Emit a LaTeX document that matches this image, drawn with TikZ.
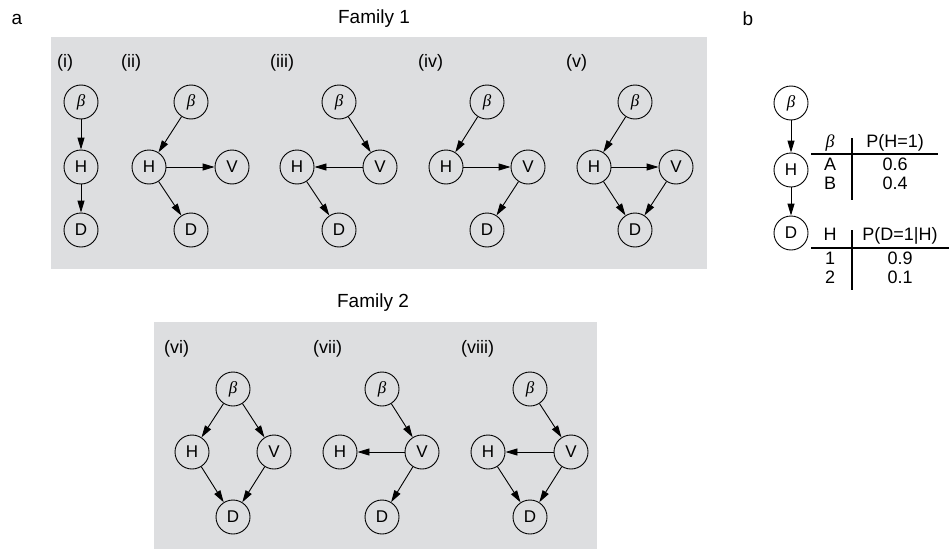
\documentclass[tikz,border=0pt]{standalone}
\usepackage{fontspec}
\setmainfont{Liberation Sans}
\newfontfamily\grkserif{Liberation Serif}
\usetikzlibrary{arrows.meta}
\definecolor{panelgray}{RGB}{221,222,224}
\newcommand{\bet}{{\grkserif\itshape β}}
\tikzset{
  x=1pt, y=-1pt,
  gnode/.style={circle, draw=black, line width=0.9pt, minimum size=34pt, inner sep=0pt, font=\fontsize{17}{17}\selectfont},
  edge/.style={draw=black, line width=0.9pt, -{Triangle[length=12pt,width=7pt]}},
  plabel/.style={anchor=west, inner sep=0pt, font=\fontsize{18}{18}\selectfont},
  title/.style={inner sep=0pt, font=\fontsize{19}{19}\selectfont},
  tabtext/.style={inner sep=0pt, text height=0.72em, text depth=0pt, font=\fontsize{18}{18}\selectfont},
  tabline/.style={draw=black, line width=1.1pt},
  panel/.style={fill=panelgray, draw=none}
}
\begin{document}
\begin{tikzpicture}
\useasboundingbox (0,0) rectangle (952,551);
\fill[white] (0,0) rectangle (952,551);
% panels
\path[panel] (51,37) rectangle (707,269);
\path[panel] (154,322) rectangle (597,549);
% titles
\node[title] (ta) at (17,19) {a};
\node[title] (tb) at (748,19) {b};
\node[title] (f1) at (374,19) {Family 1};
\node[title] (f2) at (373,303) {Family 2};
% labels
\node[plabel] (li) at (57,63) {(i)};
\node[plabel] (lii) at (121,63) {(ii)};
\node[plabel] (liii) at (270,63) {(iii)};
\node[plabel] (liv) at (418,63) {(iv)};
\node[plabel] (lv) at (566,63) {(v)};
\node[plabel] (lvi) at (164,349) {(vi)};
\node[plabel] (lvii) at (313,349) {(vii)};
\node[plabel] (lviii) at (461,349) {(viii)};
% (i)
\node[gnode] (b1) at (81,102) {\bet};
\node[gnode] (h1) at (81,167) {H};
\node[gnode] (d1) at (81,230) {D};
\draw[edge] (b1) -- (h1);
\draw[edge] (h1) -- (d1);
% (ii)
\node[gnode] (b2) at (191,102) {\bet};
\node[gnode] (h2) at (149,167) {H};
\node[gnode] (v2) at (232,167) {V};
\node[gnode] (d2) at (191,230) {D};
\draw[edge] (b2) -- (h2);
\draw[edge] (h2) -- (v2);
\draw[edge] (h2) -- (d2);
% (iii)
\node[gnode] (b3) at (339,102) {\bet};
\node[gnode] (h3) at (297,167) {H};
\node[gnode] (v3) at (380,167) {V};
\node[gnode] (d3) at (339,230) {D};
\draw[edge] (b3) -- (v3);
\draw[edge] (v3) -- (h3);
\draw[edge] (h3) -- (d3);
% (iv)
\node[gnode] (b4) at (487,102) {\bet};
\node[gnode] (h4) at (446,167) {H};
\node[gnode] (v4) at (528,167) {V};
\node[gnode] (d4) at (487,230) {D};
\draw[edge] (b4) -- (h4);
\draw[edge] (h4) -- (v4);
\draw[edge] (v4) -- (d4);
% (v)
\node[gnode] (b5) at (635,102) {\bet};
\node[gnode] (h5) at (594,167) {H};
\node[gnode] (v5) at (676,167) {V};
\node[gnode] (d5) at (635,230) {D};
\draw[edge] (b5) -- (h5);
\draw[edge] (h5) -- (v5);
\draw[edge] (h5) -- (d5);
\draw[edge] (v5) -- (d5);
% (vi)
\node[gnode] (b6) at (233,389) {\bet};
\node[gnode] (h6) at (192,452) {H};
\node[gnode] (v6) at (274,452) {V};
\node[gnode] (d6) at (233,517) {D};
\draw[edge] (b6) -- (h6);
\draw[edge] (b6) -- (v6);
\draw[edge] (h6) -- (d6);
\draw[edge] (v6) -- (d6);
% (vii)
\node[gnode] (b7) at (382,389) {\bet};
\node[gnode] (h7) at (340,452) {H};
\node[gnode] (v7) at (422,452) {V};
\node[gnode] (d7) at (382,517) {D};
\draw[edge] (b7) -- (v7);
\draw[edge] (v7) -- (h7);
\draw[edge] (v7) -- (d7);
% (viii)
\node[gnode] (b8) at (530,389) {\bet};
\node[gnode] (h8) at (488,452) {H};
\node[gnode] (v8) at (571,452) {V};
\node[gnode] (d8) at (530,517) {D};
\draw[edge] (b8) -- (v8);
\draw[edge] (v8) -- (h8);
\draw[edge] (h8) -- (d8);
\draw[edge] (v8) -- (d8);
% panel b
\node[gnode] (b9) at (791,103) {\bet};
\node[gnode] (h9) at (791,170) {H};
\node[gnode] (d9) at (791,233) {D};
\draw[edge] (b9) -- (h9);
\draw[edge] (h9) -- (d9);
% table 1
\node[tabtext] (t1a) at (830,144) {\bet};
\node[tabtext] (t1b) at (895,144) {P(H=1)};
\node[tabtext] (t1c) at (830,167) {A};
\node[tabtext] (t1d) at (830,186) {B};
\node[tabtext] (t1e) at (895,167) {0.6};
\node[tabtext] (t1f) at (895,186) {0.4};
\coordinate (t1top) at (852,138);
\coordinate (t1bot) at (852,200);
\coordinate (t1l) at (811,154);
\coordinate (t1r) at (938,154);
\draw[tabline] (t1top) -- (t1bot);
\draw[tabline] (t1l) -- (t1r);
% table 2
\node[tabtext] (t2a) at (830,237) {H};
\node[tabtext] (t2b) at (900,237) {P(D=1|H)};
\node[tabtext] (t2c) at (830,261) {1};
\node[tabtext] (t2d) at (830,280) {2};
\node[tabtext] (t2e) at (900,261) {0.9};
\node[tabtext] (t2f) at (900,280) {0.1};
\coordinate (t2top) at (852,230);
\coordinate (t2bot) at (852,290);
\coordinate (t2l) at (811,248);
\coordinate (t2r) at (949,248);
\draw[tabline] (t2top) -- (t2bot);
\draw[tabline] (t2l) -- (t2r);
\end{tikzpicture}
\end{document}
